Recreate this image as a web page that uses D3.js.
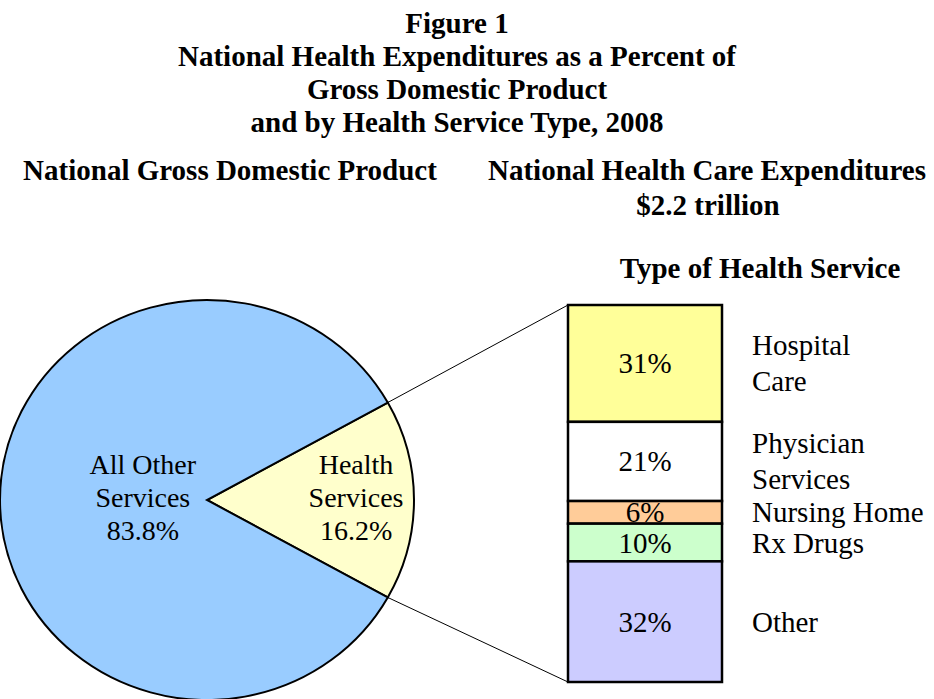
<!DOCTYPE html>
<html>
<head>
<meta charset="utf-8">
<script src="https://cdn.jsdelivr.net/npm/d3@7"></script>
<style>
  body { margin: 0; background: #fff; }
  text { font-family: "Liberation Serif", "Times New Roman", serif; fill: #000; }
</style>
</head>
<body>
<div id="chart"></div>
<script>
// pie: share of GDP
var gdpLabels = [["Health", "Services"], ["All Other", "Services"]];
var gdpValues = [16.2, 83.8];
var gdpColors = ["#FFFFCC", "#99CCFF"];

// stacked box: type of health service
var serviceLabels = [["Hospital", "Care"], ["Physician", "Services"], ["Nursing Home"], ["Rx Drugs"], ["Other"]];
var serviceValues = [31, 21, 6, 10, 32];
var serviceColors = ["#FFFF99", "#FFFFFF", "#FFCC99", "#CCFFCC", "#CCCCFF"];

var titleLines = ["Figure 1", "National Health Expenditures as a Percent of", "Gross Domestic Product", "and by Health Service Type, 2008"];

var width = 934, height = 699;

var svg = d3.select("#chart")
  .append("svg")
    .attr("width", width)
    .attr("height", height);

// titles
svg.selectAll(".title")
  .data(titleLines)
  .enter()
  .append("text")
    .attr("x", 457)
    .attr("y", function(d, i) { return 33 + i * 33; })
    .attr("text-anchor", "middle")
    .style("font-size", "29px")
    .style("font-weight", "bold")
    .text(function(d) { return d; });

svg.append("text")
  .attr("x", 230).attr("y", 180)
  .attr("text-anchor", "middle")
  .style("font-size", "29px").style("font-weight", "bold")
  .text("National Gross Domestic Product");

svg.append("text")
  .attr("x", 707).attr("y", 180)
  .attr("text-anchor", "middle")
  .style("font-size", "29px").style("font-weight", "bold")
  .text("National Health Care Expenditures");

svg.append("text")
  .attr("x", 708).attr("y", 215)
  .attr("text-anchor", "middle")
  .style("font-size", "29px").style("font-weight", "bold")
  .text("$2.2 trillion");

svg.append("text")
  .attr("x", 760).attr("y", 278)
  .attr("text-anchor", "middle")
  .style("font-size", "29px").style("font-weight", "bold")
  .text("Type of Health Service");

// pie (slightly wider than tall, like the original)
var cx = 207, cy = 500, R = 200, sx = 1.035;
var healthAngle = 2 * Math.PI * gdpValues[0] / d3.sum(gdpValues);
var start = Math.PI / 2 - healthAngle / 2;

var pie = d3.pie()
  .sort(null)
  .startAngle(start)
  .endAngle(start + 2 * Math.PI);

var arcs = pie(gdpValues);
var arc = d3.arc().innerRadius(0).outerRadius(R);

var pieG = svg.append("g")
  .attr("transform", "translate(" + cx + "," + cy + ") scale(" + sx + ",1)");

pieG.selectAll("path")
  .data(arcs)
  .enter()
  .append("path")
    .attr("d", arc)
    .style("fill", function(d, i) { return gdpColors[i]; })
    .style("stroke", "#000")
    .style("stroke-width", 2)
    .attr("vector-effect", "non-scaling-stroke");

// pie labels: health slice label out toward the rim, the big slice nearer the middle
var labelR = [0.72 * R, 0.31 * R];
arcs.forEach(function(d, i) {
  var mid = (d.startAngle + d.endAngle) / 2;
  var lx = cx + sx * labelR[i] * Math.sin(mid);
  var ly = cy - labelR[i] * Math.cos(mid);
  var lines = gdpLabels[i].concat([d3.format(".1f")(gdpValues[i]) + "%"]);
  svg.append("text")
    .attr("text-anchor", "middle")
    .style("font-size", "28px")
    .selectAll("tspan")
    .data(lines)
    .enter()
    .append("tspan")
      .attr("x", lx)
      .attr("y", function(t, j) { return ly - 26 + j * 33; })
      .text(function(t) { return t; });
});

// stacked box
var boxX = 568, boxW = 154;
var y = d3.scaleLinear()
  .domain([0, d3.sum(serviceValues)])
  .range([305, 682]);

var ends = d3.cumsum(serviceValues);
var segs = serviceValues.map(function(v, i) {
  return { value: v, y0: ends[i] - v, y1: ends[i], label: serviceLabels[i], color: serviceColors[i] };
});

// connector lines from the health slice to the box
var a0 = arcs[0].startAngle, a1 = arcs[0].endAngle;
var p0 = [cx + sx * R * Math.sin(a0), cy - R * Math.cos(a0)];
var p1 = [cx + sx * R * Math.sin(a1), cy - R * Math.cos(a1)];
svg.append("line")
  .attr("x1", p0[0]).attr("y1", p0[1])
  .attr("x2", boxX).attr("y2", y(0))
  .style("stroke", "#000").style("stroke-width", 1);
svg.append("line")
  .attr("x1", p1[0]).attr("y1", p1[1])
  .attr("x2", boxX).attr("y2", y(d3.sum(serviceValues)))
  .style("stroke", "#000").style("stroke-width", 1);

svg.selectAll(".seg")
  .data(segs)
  .enter()
  .append("rect")
    .attr("class", "seg")
    .attr("x", boxX)
    .attr("y", function(d) { return y(d.y0); })
    .attr("width", boxW)
    .attr("height", function(d) { return y(d.y1) - y(d.y0); })
    .style("fill", function(d) { return d.color; })
    .style("stroke", "#000")
    .style("stroke-width", 2.5);

svg.selectAll(".pct")
  .data(segs)
  .enter()
  .append("text")
    .attr("class", "pct")
    .attr("x", boxX + boxW / 2)
    .attr("y", function(d) { return (y(d.y0) + y(d.y1)) / 2 + 10; })
    .attr("text-anchor", "middle")
    .style("font-size", "29px")
    .text(function(d) { return d.value + "%"; });

segs.forEach(function(d) {
  var mid = (y(d.y0) + y(d.y1)) / 2;
  var lh = 36;
  svg.append("text")
    .style("font-size", "29px")
    .selectAll("tspan")
    .data(d.label)
    .enter()
    .append("tspan")
      .attr("x", 752)
      .attr("y", function(t, j) { return mid + 10 - (d.label.length - 1) * lh / 2 + j * lh; })
      .text(function(t) { return t; });
});
</script>
</body>
</html>
